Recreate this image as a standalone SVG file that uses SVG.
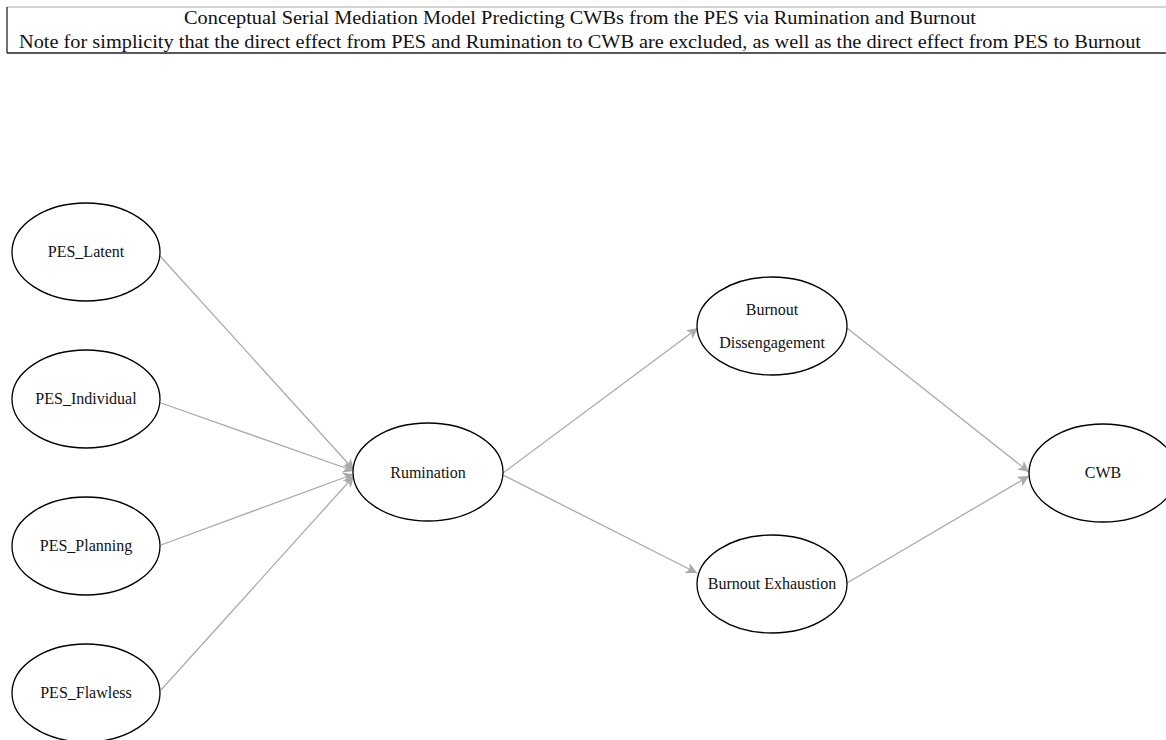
<svg xmlns="http://www.w3.org/2000/svg" width="1166" height="740" viewBox="0 0 1166 740">
<defs>
<style>
.node ellipse{fill:#fff;stroke:#000;stroke-width:1.3}
.node text{font-family:"Liberation Serif","Times New Roman",serif;font-size:16px;fill:#111;text-anchor:middle}
.title{font-family:"Liberation Serif","Times New Roman",serif;font-size:18px;fill:#111;text-anchor:middle}
.edge{stroke:#aaa;stroke-width:1.3;fill:none;marker-end:url(#arr)}
</style>
<marker id="arr" viewBox="0 0 10 10" refX="10" refY="5" markerWidth="11" markerHeight="11" markerUnits="userSpaceOnUse" orient="auto">
<path d="M0,0 L10,5 L0,10 L2.5,5 Z" fill="#aaa"/>
</marker>
</defs>
<rect width="1166" height="740" fill="#fff"/>
<g id="title">
<line x1="7" y1="7" x2="1166" y2="7" stroke="#aaa" stroke-width="1"/>
<line x1="7" y1="7" x2="7" y2="53" stroke="#222" stroke-width="1.3"/>
<line x1="7" y1="53" x2="1166" y2="53" stroke="#222" stroke-width="1.5"/>
<text class="title" x="580" y="24" textLength="792" lengthAdjust="spacingAndGlyphs">Conceptual Serial Mediation Model Predicting CWBs from the PES via Rumination and Burnout</text>
<text class="title" x="580" y="48" textLength="1122" lengthAdjust="spacingAndGlyphs">Note for simplicity that the direct effect from PES and Rumination to CWB are excluded, as well as the direct effect from PES to Burnout</text>
</g>
<g id="connectors">
<line class="edge" x1="160" y1="256" x2="354" y2="470"/>
<line class="edge" x1="161" y1="403" x2="354" y2="471"/>
<line class="edge" x1="161" y1="545" x2="354" y2="474"/>
<line class="edge" x1="161" y1="690" x2="354" y2="476"/>
<line class="edge" x1="503" y1="473" x2="698" y2="328"/>
<line class="edge" x1="503" y1="475" x2="697" y2="573"/>
<line class="edge" x1="847" y1="328" x2="1029" y2="472"/>
<line class="edge" x1="847" y1="583" x2="1029" y2="476"/>
</g>
<g id="PES_Latent" class="node"><ellipse cx="86" cy="252" rx="74" ry="49"/><text x="86" y="257">PES_Latent</text></g>
<g id="PES_Individual" class="node"><ellipse cx="86" cy="399" rx="74" ry="49"/><text x="86" y="404">PES_Individual</text></g>
<g id="PES_Planning" class="node"><ellipse cx="86" cy="546" rx="74" ry="49"/><text x="86" y="551">PES_Planning</text></g>
<g id="PES_Flawless" class="node"><ellipse cx="86" cy="693" rx="74" ry="49"/><text x="86" y="698">PES_Flawless</text></g>
<g id="Rumination" class="node"><ellipse cx="428" cy="472" rx="75" ry="49"/><text x="428" y="478">Rumination</text></g>
<g id="Burnout_Dissengagement" class="node"><ellipse cx="772" cy="326" rx="75" ry="49"/><text x="772" y="315">Burnout</text><text x="772" y="348">Dissengagement</text></g>
<g id="Burnout_Exhaustion" class="node"><ellipse cx="772" cy="584" rx="75" ry="49"/><text x="772" y="589">Burnout Exhaustion</text></g>
<g id="CWB" class="node"><ellipse cx="1103" cy="473" rx="74" ry="49"/><text x="1103" y="478">CWB</text></g>
</svg>
